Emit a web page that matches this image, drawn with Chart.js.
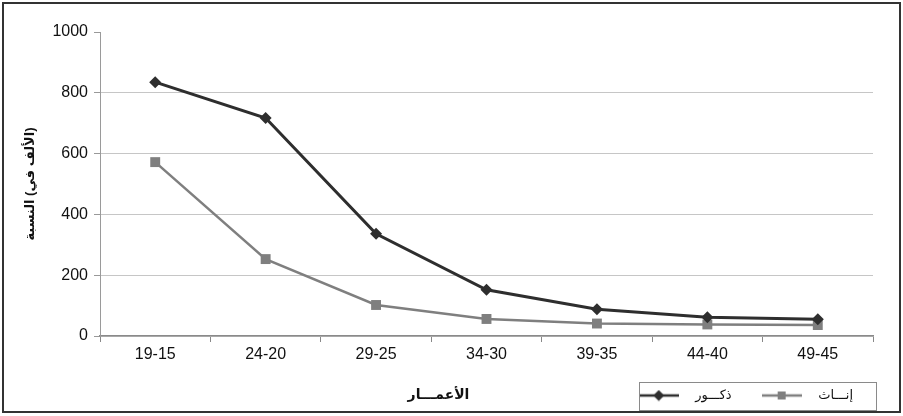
<!DOCTYPE html>
<html>
<head>
<meta charset="utf-8">
<script src="https://cdn.jsdelivr.net/npm/chart.js@4/dist/chart.umd.min.js"></script>
<style>
  body { margin: 0; background: #fff; }
  canvas { display: block; }
</style>
</head>
<body>
<canvas id="ages" width="903" height="416"></canvas>
<script>
// age groups (as written on the axis) and rates per thousand
const ageGroups = ['19-15', '24-20', '29-25', '34-30', '39-35', '44-40', '49-45']
const males = [835, 717, 336, 152, 88, 62, 55]
const females = [572, 253, 102, 56, 41, 38, 36]
const yTicks = { min: 0, max: 1000, step: 200 }

const maleLabel = 'ذكـــور'
const femaleLabel = 'إنـــاث'
const xTitle = 'الأعمـــار'
const yTitle = 'النسبة\u200E (في\u200E الألف)'

const fontFamily = "'Liberation Sans', Arial, 'DejaVu Sans', sans-serif"
Chart.defaults.font.family = fontFamily
Chart.defaults.color = '#111'

const maleColor = '#2e2e2e'
const femaleColor = '#7f7f7f'

// small line + marker pictures for the legend
function legendIcon(color, shape) {
  const c = document.createElement('canvas')
  c.width = 40
  c.height = 12
  const g = c.getContext('2d')
  g.strokeStyle = color
  g.lineWidth = 2.5
  g.beginPath()
  g.moveTo(0, 6)
  g.lineTo(40, 6)
  g.stroke()
  g.fillStyle = color
  if (shape === 'diamond') {
    g.beginPath()
    g.moveTo(20, 0.5)
    g.lineTo(25.5, 6)
    g.lineTo(20, 11.5)
    g.lineTo(14.5, 6)
    g.closePath()
    g.fill()
  } else {
    g.fillRect(16, 2, 8, 8)
  }
  return c
}
const legendIcons = [legendIcon(maleColor, 'diamond'), legendIcon(femaleColor, 'square')]

// frame round the chart, box round the legend, and the x title beside it
const framePlugin = {
  id: 'frame',
  beforeDraw(chart) {
    const ctx = chart.ctx
    ctx.save()
    ctx.fillStyle = '#fff'
    ctx.fillRect(0, 0, chart.width, chart.height)
    ctx.restore()
  },
  afterDraw(chart) {
    const { ctx, chartArea, legend } = chart
    const hb = legend.legendHitBoxes
    const first = hb[0]
    const last = hb[hb.length - 1]
    ctx.save()
    ctx.strokeStyle = '#8a8a8a'
    ctx.lineWidth = 1
    const left = first.left + 10
    const right = last.left + last.width + 23
    const top = first.top - 7
    const bottom = first.top + first.height + 8
    ctx.strokeRect(Math.round(left) + 0.5, Math.round(top) + 0.5, Math.round(right - left), Math.round(bottom - top))

    ctx.font = 'bold 14px ' + fontFamily
    ctx.fillStyle = '#111'
    ctx.textAlign = 'center'
    ctx.textBaseline = 'middle'
    ctx.fillText(xTitle, (chartArea.left + chartArea.right) / 2 - 48, first.top + first.height / 2)

    ctx.strokeStyle = '#333'
    ctx.lineWidth = 2
    ctx.strokeRect(3, 3, 897, 409)
    ctx.restore()
  },
}

const ctxAges = document.getElementById('ages').getContext('2d')
new Chart(ctxAges, {
  type: 'line',
  data: {
    labels: ageGroups,
    datasets: [
      {
        label: maleLabel,
        data: males,
        borderColor: maleColor,
        backgroundColor: maleColor,
        borderWidth: 3,
        pointStyle: 'rectRot',
        pointRadius: 6,
        pointBorderWidth: 0,
        tension: 0,
      },
      {
        label: femaleLabel,
        data: females,
        borderColor: femaleColor,
        backgroundColor: femaleColor,
        borderWidth: 2.5,
        pointStyle: 'rect',
        pointRadius: 7,
        pointBorderWidth: 0,
        tension: 0,
      },
    ],
  },
  options: {
    responsive: false,
    animation: false,
    layout: { padding: { top: 32, right: 30, bottom: 4, left: 20 } },
    plugins: {
      tooltip: { enabled: false },
      legend: {
        position: 'bottom',
        align: 'end',
        labels: {
          usePointStyle: true,
          pointStyleWidth: 60,
          padding: 20,
          font: { size: 13 },
          color: '#111',
          generateLabels: chart => {
            const items = Chart.defaults.plugins.legend.labels.generateLabels(chart)
            items.forEach((item, i) => {
              item.pointStyle = legendIcons[i]
            })
            return items
          },
        },
      },
    },
    scales: {
      x: {
        offset: true,
        afterFit: scale => {
          scale.height = 33
        },
        grid: {
          offset: true,
          drawOnChartArea: false,
          tickLength: 6,
          tickColor: '#888',
        },
        border: { color: '#8a8a8a', width: 1.5 },
        ticks: { font: { size: 16 }, padding: 3, color: '#111' },
      },
      y: {
        min: yTicks.min,
        max: yTicks.max,
        afterFit: scale => {
          scale.width = 80
        },
        grid: {
          color: c => (c.tick && c.tick.value === yTicks.max ? 'rgba(0,0,0,0)' : '#c6c6c6'),
          tickColor: '#999',
          tickLength: 6,
        },
        border: { color: '#9a9a9a', width: 1 },
        ticks: {
          stepSize: yTicks.step,
          font: { size: 16 },
          padding: 6,
          color: '#111',
          callback: value => String(value),
        },
        title: {
          display: true,
          text: yTitle,
          font: { size: 13, weight: 'bold' },
          color: '#111',
          padding: { top: 3, bottom: 0 },
        },
      },
    },
  },
  plugins: [framePlugin],
})
</script>
</body>
</html>
